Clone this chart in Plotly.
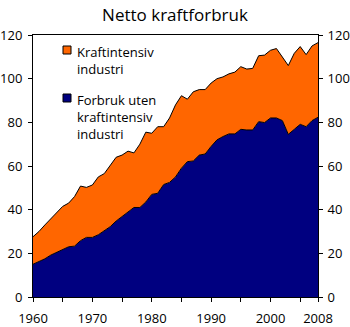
import plotly.graph_objects as go

# Netto kraftforbruk (TWh), 1960-2008
years = list(range(1960, 2009))
forbruk_uten = [15.0, 16.3, 17.5, 19.2, 20.5, 21.5, 23.0, 23.3, 25.8, 27.3,
                27.3, 28.5, 30.5, 32.2, 34.8, 37.0, 39.0, 41.0, 41.0, 43.5,
                47.0, 47.5, 51.5, 52.5, 55.0, 59.0, 62.0, 62.3, 65.0, 65.5,
                69.0, 72.0, 73.5, 74.7, 74.7, 76.8, 76.5, 76.5, 80.3, 79.9,
                82.0, 82.0, 80.8, 74.5, 76.8, 79.1, 78.0, 80.8, 82.3]
kraftintensiv = [12.6, 13.7, 15.5, 16.8, 18.0, 20.0, 20.0, 22.7, 25.0, 22.9,
                 24.0, 26.5, 26.0, 27.8, 29.2, 28.0, 27.8, 25.0, 29.0, 32.0,
                 28.0, 30.5, 26.5, 29.5, 33.0, 33.2, 28.6, 31.7, 30.0, 29.5,
                 29.0, 28.0, 27.3, 27.5, 28.3, 28.7, 27.9, 28.2, 30.2, 30.9,
                 31.0, 31.8, 29.2, 31.5, 34.8, 35.6, 33.0, 34.2, 34.2]

x_tickvals = [1960, 1965, 1970, 1975, 1980, 1985, 1990, 1995, 2000, 2005, 2008]
x_ticktext = ["1960", "", "1970", "", "1980", "", "1990", "", "2000", "", "2008"]
y_tickvals = [0, 20, 40, 60, 80, 100, 120]

navy = "#000080"
orange = "#FF6600"
font = "Open Sans"

fig = go.Figure()
fig.add_trace(go.Scatter(
    x=years, y=forbruk_uten, stackgroup="one", mode="lines",
    line=dict(color="black", width=1), fillcolor=navy,
    name="Forbruk uten kraftintensiv industri", showlegend=False))
fig.add_trace(go.Scatter(
    x=years, y=kraftintensiv, stackgroup="one", mode="lines",
    line=dict(color="black", width=1), fillcolor=orange,
    name="Kraftintensiv industri", showlegend=False))
# invisible trace to carry the right-hand axis
fig.add_trace(go.Scatter(x=[years[0]], y=[0], yaxis="y2", mode="markers",
                         marker=dict(opacity=0), showlegend=False,
                         hoverinfo="skip"))

L, R, T, B = 33, 32, 35, 30
W, H = 350, 327
pw, ph = W - L - R, H - T - B


def px(xp):
    return (xp - L) / pw


def py(yp):
    return (H - B - yp) / ph


tickfont = dict(family=font, size=13, color="black")
fig.update_layout(
    width=W, height=H,
    margin=dict(l=L, r=R, t=T, b=B, pad=0),
    paper_bgcolor="white", plot_bgcolor="white",
    title=dict(text="Netto kraftforbruk", x=0.5, xanchor="center",
               y=1 - 15 / H, yanchor="middle",
               font=dict(family=font, size=17, color="black")),
    xaxis=dict(range=[1960, 2008], tickvals=x_tickvals, ticktext=x_ticktext,
               ticks="outside", ticklen=4, tickcolor="black",
               ticklabelstandoff=5, automargin=False,
               showline=True, linecolor="black", linewidth=1, mirror=True,
               showgrid=False, zeroline=False, tickfont=tickfont),
    yaxis=dict(range=[0, 120], tickvals=y_tickvals, ticks="outside",
               ticklen=4, tickcolor="black", ticklabelstandoff=3,
               automargin=False,
               showline=True, linecolor="black", linewidth=1,
               showgrid=False, zeroline=False, tickfont=tickfont),
    yaxis2=dict(range=[0, 120], tickvals=y_tickvals, ticks="outside",
                ticklen=4, tickcolor="black", ticklabelstandoff=2,
                automargin=False,
                showline=True, linecolor="black", linewidth=1,
                showgrid=False, zeroline=False, overlaying="y",
                side="right", tickfont=tickfont),
)

# legend: small squares with labels
legend_items = [
    (orange, "Kraftintensiv<br>industri", 46),
    (navy, "Forbruk uten<br>kraftintensiv<br>industri", 94),
]
for color, label, top in legend_items:
    fig.add_shape(type="rect", xref="paper", yref="paper",
                  x0=px(63), x1=px(71), y0=py(top), y1=py(top + 8),
                  fillcolor=color, line=dict(color="black", width=1))
    fig.add_annotation(xref="paper", yref="paper", x=px(75), y=py(top - 5),
                       xanchor="left", yanchor="top", align="left",
                       text=label, showarrow=False,
                       font=dict(family=font, size=13, color="black"))

fig.write_html("out.html")
